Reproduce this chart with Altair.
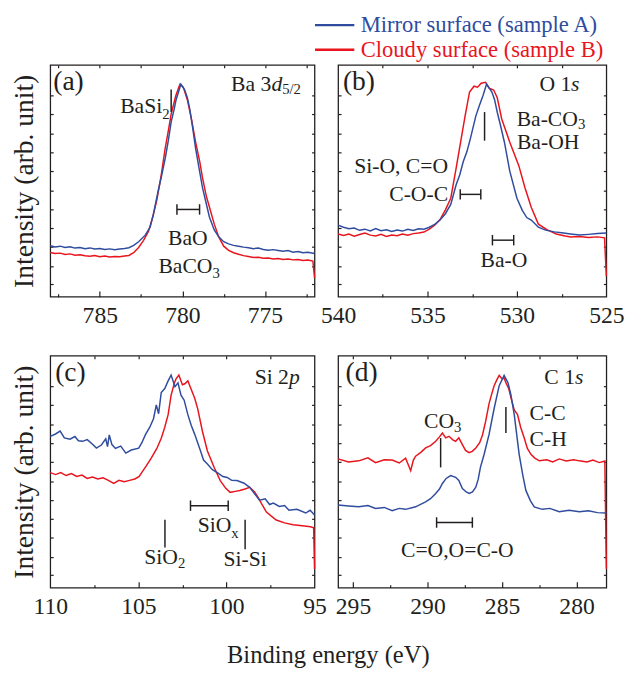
import altair as alt
import pandas as pd

BLUE = "#2f4c9e"
RED = "#e8151d"
INK = "#231f20"
FONT = "Liberation Serif"
SER_A = "Mirror surface (sample A)"
SER_B = "Cloudy surface (sample B)"
X_TITLE = "Binding energy (eV)"
Y_TITLE = "Intensity (arb. unit)"

Y_TICKS = [0.65, 1.6, 2.6, 3.55, 4.55, 5.5, 6.5, 7.45, 8.45, 9.45, 10.4]

# ---------------- (a) Ba 3d5/2 ----------------
a_blue = [(788.0,2.64),(787.7,2.58),(787.4,2.62),(787.1,2.55),(786.8,2.59),(786.5,2.52),(786.2,2.55),
          (785.9,2.49),(785.6,2.53),(785.3,2.47),(785.0,2.50),(784.7,2.45),(784.4,2.48),(784.1,2.44),
          (783.8,2.47),(783.5,2.50),(783.24,2.54),(782.95,2.66),(782.65,2.85),(782.25,3.19),(781.95,3.61),
          (781.75,4.3),(781.46,5.5),(781.25,6.3),(781.04,7.17),(780.85,8.1),(780.68,9.05),(780.5,9.7),
          (780.38,10.2),(780.2,10.7),(780.09,11.0),(779.87,10.73),(779.7,10.3),(779.55,9.7),(779.37,8.7),
          (779.2,7.68),(779.0,6.7),(778.78,5.64),(778.55,4.8),(778.36,4.12),(778.07,3.46),(777.8,3.1),
          (777.5,2.85),(777.2,2.74),(776.9,2.66),(776.6,2.62),(776.3,2.57),(776.0,2.54),(775.7,2.49),
          (775.4,2.52),(775.1,2.45),(774.8,2.41),(774.5,2.44),(774.2,2.40),(773.9,2.36),(773.6,2.39),
          (773.3,2.31),(773.0,2.34),(772.7,2.28),(772.4,2.30),(772.0,2.24)]
a_red = [(788.0,2.29),(787.7,2.24),(787.4,2.26),(787.1,2.19),(786.8,2.22),(786.5,2.15),(786.2,2.18),
         (785.9,2.12),(785.6,2.10),(785.3,2.14),(785.0,2.07),(784.7,2.11),(784.4,2.06),(784.1,2.09),
         (783.8,2.07),(783.5,2.11),(783.24,2.14),(782.95,2.28),(782.65,2.55),(782.35,2.92),(782.05,3.40),
         (781.8,4.1),(781.55,5.0),(781.3,6.2),(781.04,7.7),(780.85,8.6),(780.68,9.45),(780.4,10.4),
         (780.15,11.0),(779.95,10.85),(779.7,10.2),(779.45,9.2),(779.2,8.0),(778.95,7.0),(778.78,6.15),
         (778.55,5.2),(778.36,4.63),(778.07,3.76),(777.8,3.1),(777.5,2.62),(777.2,2.40),(776.9,2.28),
         (776.6,2.20),(776.3,2.13),(776.0,2.08),(775.7,2.03),(775.4,2.05),(775.1,1.99),(774.8,2.01),
         (774.5,1.96),(774.2,1.98),(773.9,1.93),(773.6,1.95),(773.3,1.91),(773.0,1.93),(772.7,1.88),
         (772.4,1.90),(772.1,1.85),(772.0,0.97)]

# ---------------- (b) O 1s ----------------
b_blue = [(540.0,3.71),(539.7,3.60),(539.4,3.52),(539.1,3.56),(538.8,3.44),(538.5,3.50),(538.2,3.41),
          (537.9,3.53),(537.6,3.42),(537.3,3.47),(537.0,3.38),(536.7,3.46),(536.4,3.40),(536.1,3.49),
          (535.8,3.43),(535.5,3.52),(535.2,3.50),(534.9,3.60),(534.6,3.75),(534.3,3.97),(534.0,4.3),
          (533.7,4.78),(533.4,5.8),(533.2,6.3),(533.0,7.0),(532.8,7.5),(532.6,8.2),(532.3,9.35),
          (532.1,9.9),(531.9,10.4),(531.7,11.0),(531.55,10.8),(531.4,10.6),(531.25,10.2),(531.1,9.55),
          (530.9,8.8),(530.7,8.0),(530.4,6.5),(530.0,5.1),(529.7,4.47),(529.45,4.1),(529.2,3.97),
          (528.8,3.6),(528.4,3.45),(527.9,3.36),(527.5,3.31),(527.0,3.25),(526.5,3.20),(526.0,3.23),
          (525.5,3.27),(525.0,3.30)]
b_red = [(540.0,3.25),(539.7,3.17),(539.4,3.25),(539.1,3.14),(538.8,3.22),(538.5,3.30),(538.2,3.19),
         (537.9,3.15),(537.6,3.23),(537.3,3.12),(537.0,3.20),(536.7,3.16),(536.4,3.25),(536.1,3.19),
         (535.8,3.27),(535.5,3.30),(535.2,3.35),(534.9,3.50),(534.6,3.70),(534.3,4.0),(534.0,4.5),
         (533.7,5.1),(533.4,6.66),(533.15,8.0),(532.9,9.35),(532.65,10.6),(532.4,10.9),(532.2,10.85),
         (532.0,11.05),(531.75,11.1),(531.55,10.8),(531.3,10.7),(531.1,10.3),(530.85,9.2),(530.4,8.0),
         (529.9,6.8),(529.55,5.64),(529.2,4.63),(528.8,3.76),(528.3,3.46),(527.8,3.25),(527.3,3.15),
         (527.0,3.10),(526.5,3.12),(526.0,3.07),(525.5,3.10),(525.1,3.05),(525.0,1.07)]

# ---------------- (c) Si 2p ----------------
c_blue = [(110.0,7.83),(109.7,7.95),(109.44,8.1),(109.2,7.75),(108.88,7.68),(108.6,7.82),(108.4,7.6),
          (108.16,7.57),(107.9,7.66),(107.6,7.42),(107.38,7.22),(107.1,7.38),(106.85,7.7),(106.75,7.3),
          (106.65,7.9),(106.5,7.4),(106.3,7.2),(106.0,7.32),(105.71,6.96),(105.4,7.12),(104.98,7.22),
          (104.8,7.5),(104.59,7.93),(104.35,8.3),(104.14,8.74),(103.98,9.46),(103.85,9.0),(103.7,10.1),
          (103.5,10.3),(103.31,10.7),(103.14,11.0),(102.92,10.4),(102.75,10.6),(102.58,9.96),(102.4,9.7),
          (102.19,8.95),(102.0,8.4),(101.8,7.93),(101.47,7.07),(101.3,6.6),(101.08,6.4),(100.8,6.1),
          (100.52,5.95),(100.2,5.75),(99.96,5.7),(99.7,5.55),(99.4,5.54),(99.0,5.40),(98.68,5.19),
          (98.4,4.85),(98.12,4.52),(97.8,4.60),(97.55,4.30),(97.34,4.37),(97.0,4.20),(96.7,4.25),
          (96.45,4.0),(96.0,4.05),(95.5,3.86),(95.25,4.0),(95.0,3.76)]
c_red = [(110.0,5.95),(109.7,5.85),(109.4,5.95),(109.1,5.80),(108.8,5.90),(108.5,5.75),(108.2,5.82),
         (107.9,5.65),(107.6,5.72),(107.3,5.62),(107.0,5.68),(106.7,5.55),(106.4,5.39),(106.1,5.55),
         (105.8,5.48),(105.5,5.55),(105.2,5.62),(104.95,5.75),(104.81,5.95),(104.55,6.3),(104.26,6.71),
         (103.95,7.2),(103.7,7.73),(103.5,8.3),(103.31,8.95),(103.14,9.96),(102.95,10.6),(102.86,10.8),
         (102.7,11.0),(102.5,10.5),(102.36,10.55),(102.19,10.7),(102.02,10.3),(101.8,9.8),(101.63,9.25),
         (101.36,8.08),(101.08,7.07),(100.69,6.2),(100.35,5.54),(100.05,5.15),(99.79,4.93),(99.5,4.98),
         (99.24,5.03),(98.95,5.1),(98.68,5.19),(98.4,4.95),(98.18,4.63),(97.95,4.25),(97.73,3.91),
         (97.45,3.7),(97.17,3.5),(96.7,3.35),(96.22,3.25),(95.7,3.2),(95.22,3.15),(95.05,3.1),(95.0,0.97)]

# ---------------- (d) C 1s ----------------
d_blue = [(296.0,4.27),(295.3,4.22),(294.61,4.18),(294.0,4.25),(293.49,4.1),(292.9,4.15),(292.37,3.98),
          (291.9,4.1),(291.47,4.05),(290.8,4.18),(290.13,4.44),(289.8,4.6),(289.45,4.87),(289.2,5.1),
          (289.0,5.39),(288.75,5.65),(288.45,5.8),(288.11,5.71),(287.9,5.55),(287.66,5.13),(287.4,4.95),
          (287.21,4.87),(286.98,4.95),(286.76,5.2),(286.6,5.6),(286.45,6.22),(286.2,6.9),(285.87,7.93),
          (285.53,9.27),(285.19,10.45),(284.86,10.98),(284.6,10.6),(284.41,10.0),(284.18,8.95),(283.85,6.9),
          (283.6,5.8),(283.4,5.03),(283.1,4.5),(282.84,4.18),(282.3,4.05),(281.8,4.1),(281.16,3.93),
          (280.5,4.0),(279.81,3.93),(279.2,3.98),(278.6,3.88),(278.0,3.86)]
d_red = [(296.0,6.66),(295.3,6.5),(294.61,6.56),(294.0,6.72),(293.49,6.47),(292.9,6.62),(292.37,6.6),
         (291.9,6.45),(291.47,6.7),(291.13,6.05),(290.95,6.6),(290.8,6.8),(290.45,7.0),(290.13,7.23),
         (289.8,7.35),(289.45,7.57),(289.2,7.8),(289.0,8.0),(288.78,7.75),(288.56,7.83),(288.3,7.65),
         (288.11,7.57),(287.9,7.75),(287.66,7.4),(287.45,7.1),(287.21,6.98),(287.0,7.05),(286.76,7.23),
         (286.5,7.5),(286.31,7.9),(286.1,8.6),(285.87,9.52),(285.7,10.0),(285.53,10.45),(285.35,10.75),
         (285.19,10.98),(285.0,10.8),(284.86,10.85),(284.74,10.6),(284.55,10.3),(284.41,9.86),(284.18,9.2),
         (283.96,8.95),(283.75,8.3),(283.51,7.74),(283.3,7.2),(283.06,6.9),(282.8,6.7),(282.5,6.56),
         (282.0,6.62),(281.6,6.5),(281.16,6.66),(280.7,6.55),(280.2,6.62),(279.81,6.56),(279.3,6.5),
         (278.9,6.6),(278.47,6.47),(278.1,6.55),(278.0,0.97)]

# ---------------- annotations (binding energy, intensity, text) ----------------
ann_a = {
    "panel": [(787.82, 11.1, "(a)")],
    "left": [(777.05, 11.03, "Ba 3")],
    "italic": [(774.6, 11.03, "d")],
    "sub": [(773.96, 10.73, "5/2"), (781.22, 9.46, "2"), (778.18, 1.22, "3")],
    "right": [(781.22, 9.86, "BaSi"), (778.18, 1.58, "BaCO")],
    "center": [(779.67, 3.02, "BaO")],
    "vbar": [(780.68, 10.73, 9.56)],
    "hbar": [(780.33, 778.96, 4.52)],
}
ann_b = {
    "panel": [(539.73, 11.1, "(b)")],
    "left": [(528.74, 11.0, "O 1"), (530.0, 8.0, "Ba-OH")],
    "italic": [(526.98, 11.0, "s")],
    "sub": [(526.59, 8.95, "3")],
    "right": [(526.59, 9.18, "Ba-CO"), (533.85, 6.74, "Si-O, C=O"), (533.85, 5.31, "C-O-C")],
    "center": [(530.73, 1.9, "Ba-O")],
    "vbar": [(531.81, 9.56, 8.08)],
    "hbar": [(533.17, 532.02, 5.3), (531.37, 530.18, 2.93)],
}
ann_c = {
    "panel": [(109.72, 11.1, "(c)")],
    "left": [(98.4, 10.88, "Si 2")],
    "italic": [(96.45, 10.88, "p")],
    "sub": [(102.75, 1.27, "2"), (99.72, 2.8, "x")],
    "right": [(102.75, 1.6, "SiO"), (99.72, 3.23, "SiO")],
    "center": [(98.94, 1.45, "Si-Si")],
    "vbar": [(103.49, 3.51, 2.07), (98.94, 3.51, 1.98)],
    "hbar": [(102.04, 99.9, 4.24)],
}
ann_d = {
    "panel": [(295.5, 11.1, "(d)")],
    "left": [(282.16, 10.88, "C 1"), (283.15, 9.02, "C-C"), (283.15, 7.68, "C-H")],
    "italic": [(280.1, 10.88, "s")],
    "sub": [(288.22, 8.29, "3")],
    "right": [(288.22, 8.64, "CO")],
    "center": [(288.0, 1.96, "C=O,O=C-O")],
    "vbar": [(289.12, 7.74, 6.22), (284.74, 9.35, 8.0)],
    "hbar": [(289.39, 286.99, 3.37)],
}

TEXT_STYLE = {
    "panel": dict(align="left", fontSize=28),
    "left": dict(align="left", fontSize=22),
    "right": dict(align="right", fontSize=22),
    "center": dict(align="center", fontSize=22),
    "italic": dict(align="left", fontSize=22, fontStyle="italic"),
    "sub": dict(align="left", fontSize=15),
}

H = 236
CAP = 0.27

LEG_A = alt.Legend(orient="none", legendX=278, legendY=-52, title=None, symbolType="M-4,0H4",
                   symbolSize=100, symbolStrokeWidth=2.5, labelFont=FONT, labelFontSize=23,
                   labelColor=BLUE, labelOffset=15, padding=0, labelLimit=400)
LEG_B = alt.Legend(orient="none", legendX=278, legendY=-27, title=None, symbolType="M-4,0H4",
                   symbolSize=100, symbolStrokeWidth=2.5, labelFont=FONT, labelFontSize=23,
                   labelColor=RED, labelOffset=15, padding=0, labelLimit=400)


def tick_axis(**kw):
    base = dict(title=None, grid=False, domain=False, labels=False, ticks=True,
                tickColor=INK, tickWidth=1.2)
    base.update(kw)
    return alt.Axis(**base)


def panel(blue, red, dom, labels, major, minor, ann, width, ytitle):
    xs = alt.Scale(domain=dom, reverse=True, nice=False, zero=False)
    ys = alt.Scale(domain=[0, 12], nice=False, zero=False)
    dfb = pd.DataFrame(blue, columns=["e", "v"]).assign(s=SER_A)
    dfr = pd.DataFrame(red, columns=["e", "v"]).assign(s=SER_B)

    if ytitle:
        y_main = alt.Axis(title=ytitle, grid=False, domain=False, labels=False, ticks=False,
                          titleFont=FONT, titleFontSize=28, titleFontWeight="normal",
                          titleColor=INK, titlePadding=12)
    else:
        y_main = None

    l_red = alt.Chart(dfr).mark_line(strokeWidth=1.5).encode(
        x=alt.X("e:Q", scale=xs, axis=tick_axis(orient="top", offset=-H, values=major, tickSize=6)),
        y=alt.Y("v:Q", scale=ys, axis=tick_axis(orient="right", offset=-width, values=Y_TICKS, tickSize=3)),
        stroke=alt.Stroke("s:N", scale=alt.Scale(domain=[SER_B], range=[RED]), legend=LEG_B),
    )
    l_blue = alt.Chart(dfb).mark_line(strokeWidth=1.5).encode(
        x=alt.X("e:Q", scale=xs, axis=alt.Axis(orient="bottom", values=labels, format="d", ticks=False,
                                               domain=False, grid=False, title=None, labelFont=FONT,
                                               labelFontSize=24, labelColor=INK, labelPadding=7,
                                               labelOverlap=False, labelFlush=False, labelBound=False)),
        y=alt.Y("v:Q", scale=ys, axis=y_main),
        color=alt.Color("s:N", scale=alt.Scale(domain=[SER_A], range=[BLUE]), legend=LEG_A),
    )
    l_t3 = alt.Chart(dfb).mark_line(opacity=0).encode(
        x=alt.X("e:Q", scale=xs, axis=tick_axis(orient="top", offset=-H, values=minor, tickSize=3)),
        y=alt.Y("v:Q", scale=ys, axis=tick_axis(orient="left", offset=-width, values=Y_TICKS, tickSize=3)),
    )
    l_t4 = alt.Chart(dfb).mark_line(opacity=0).encode(
        x=alt.X("e:Q", scale=xs, axis=tick_axis(orient="bottom", offset=-H, values=major + minor, tickSize=3)),
        y=alt.Y("v:Q", scale=ys, axis=None),
    )

    layers = [l_red, l_blue, l_t3, l_t4]

    vrows = list(ann["vbar"])
    for e1, e2, yv in ann["hbar"]:
        vrows.append((e1, yv - CAP, yv + CAP))
        vrows.append((e2, yv - CAP, yv + CAP))
    dfv = pd.DataFrame(vrows, columns=["e", "y1", "y2"])
    layers.append(alt.Chart(dfv).mark_rule(color=INK, strokeWidth=1.5).encode(
        x=alt.X("e:Q", scale=xs, axis=None),
        y=alt.Y("y1:Q", scale=ys, axis=None),
        y2="y2:Q",
    ))
    dfh = pd.DataFrame(ann["hbar"], columns=["e1", "e2", "y"])
    layers.append(alt.Chart(dfh).mark_rule(color=INK, strokeWidth=1.5).encode(
        x=alt.X("e1:Q", scale=xs, axis=None),
        x2="e2:Q",
        y=alt.Y("y:Q", scale=ys, axis=None),
    ))
    for kind, props in TEXT_STYLE.items():
        rows = ann.get(kind)
        if not rows:
            continue
        dft = pd.DataFrame(rows, columns=["e", "v", "t"])
        layers.append(alt.Chart(dft).mark_text(font=FONT, color=INK, baseline="middle", **props).encode(
            x=alt.X("e:Q", scale=xs, axis=None),
            y=alt.Y("v:Q", scale=ys, axis=None),
            text="t:N",
        ))

    return alt.layer(*layers).resolve_axis(x="independent", y="independent").properties(
        width=width, height=H)


pa = panel(a_blue, a_red, [772, 788], [785, 780, 775], [785, 780, 775],
           [787.5, 782.5, 777.5, 772.5], ann_a, 269, Y_TITLE)
pb = panel(b_blue, b_red, [525, 540], [540, 535, 530, 525], [535, 530],
           [537.5, 532.5, 527.5], ann_b, 273, None)
pc = panel(c_blue, c_red, [95, 110], [110, 105, 100, 95], [105, 100],
           [107.5, 102.5, 97.5], ann_c, 269, Y_TITLE)
pd_ = panel(d_blue, d_red, [278, 296], [295, 290, 285, 280], [295, 290, 285, 280],
            [292.5, 287.5, 282.5], ann_d, 273, None)

chart = alt.concat(pa, pb, pc, pd_, columns=2, spacing={"row": 60, "column": 24},
                   bounds="flush").properties(
    padding={"left": 2, "top": 0, "right": 0, "bottom": 0},
    title=alt.TitleParams(X_TITLE, orient="bottom", anchor="middle", font=FONT, dx=11,
                          fontSize=25, fontWeight="normal", color=INK, offset=25),
).configure_view(stroke=INK, strokeWidth=1.3)

chart.save("out.html", embed_options={"renderer": "svg", "actions": False})
